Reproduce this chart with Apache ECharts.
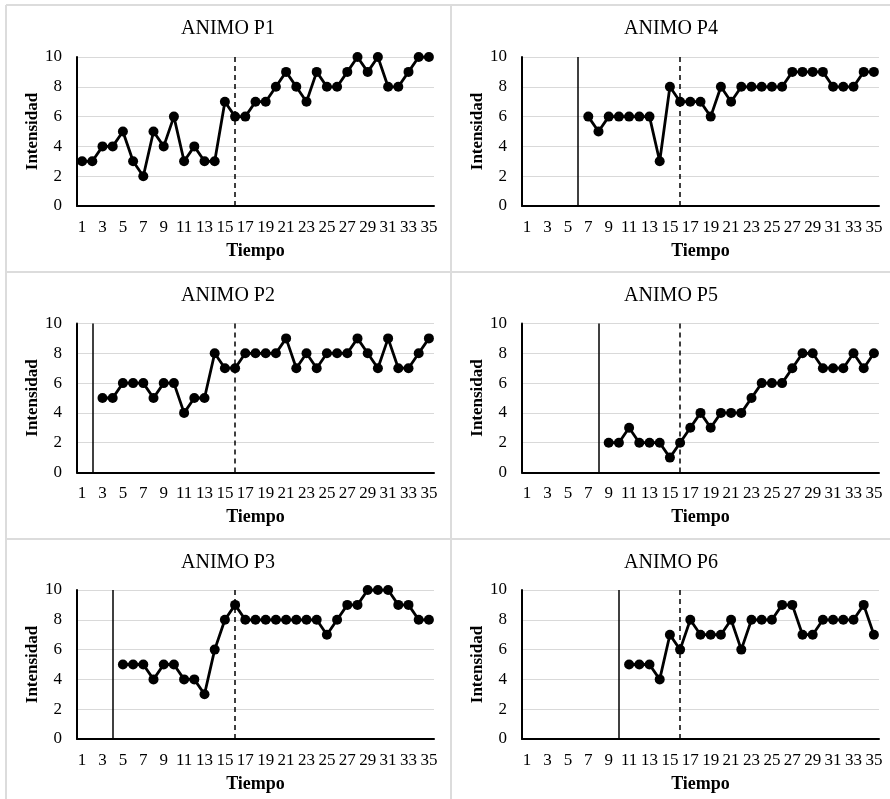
<!DOCTYPE html>
<html>
<head>
<meta charset="utf-8">
<script src="https://cdn.jsdelivr.net/npm/echarts@6/dist/echarts.min.js"></script>
<style>
html,body{margin:0;padding:0;background:#fff;}
#chart{width:890px;height:799px;}
</style>
</head>
<body>
<div id="chart"></div>
<script>
var categories = ['1','2','3','4','5','6','7','8','9','10','11','12','13','14','15','16','17','18','19','20','21','22','23','24','25','26','27','28','29','30','31','32','33','34','35'];
var yTicks = [0, 2, 4, 6, 8, 10];

var titles = ['ANIMO P1', 'ANIMO P4', 'ANIMO P2', 'ANIMO P5', 'ANIMO P3', 'ANIMO P6'];

var p1 = [3,3,4,4,5,3,2,5,4,6,3,4,3,3,7,6,6,7,7,8,9,8,7,9,8,8,9,10,9,10,8,8,9,10,10];
var p4 = [null,null,null,null,null,null,6,5,6,6,6,6,6,3,8,7,7,7,6,8,7,8,8,8,8,8,9,9,9,9,8,8,8,9,9];
var p2 = [null,null,5,5,6,6,6,5,6,6,4,5,5,8,7,7,8,8,8,8,9,7,8,7,8,8,8,9,8,7,9,7,7,8,9];
var p5 = [null,null,null,null,null,null,null,null,2,2,3,2,2,2,1,2,3,4,3,4,4,4,5,6,6,6,7,8,8,7,7,7,8,7,8];
var p3 = [null,null,null,null,5,5,5,4,5,5,4,4,3,6,8,9,8,8,8,8,8,8,8,8,7,8,9,9,10,10,10,9,9,8,8];
var p6 = [null,null,null,null,null,null,null,null,null,null,5,5,5,4,7,6,8,7,7,7,8,6,8,8,8,9,9,7,7,8,8,8,8,9,7];

var seriesData = [p1, p4, p2, p5, p3, p6];
// phase-change lines (category labels); null = none
var solidLines = [null, '6', '2', '8', '4', '10'];
var dashedLines = ['16', '16', '16', '16', '16', '16'];

var FONT = 'Liberation Serif';
var colLeft = [77, 522];
var gridW = 357;
var rowTop = [57, 323.5, 590];
var gridH = 149;
var panelCenterX = [228, 671];
var panelTop = [5, 272, 539];

var chart = echarts.init(document.getElementById('chart'));

var grids = [], xAxes = [], yAxes = [], series = [], titleOpts = [];
for (var i = 0; i < 6; i++) {
  var r = Math.floor(i / 2), c = i % 2;
  grids.push({left: colLeft[c], top: rowTop[r], width: gridW, height: gridH, containLabel: false});
  titleOpts.push({
    text: titles[i], left: panelCenterX[c], top: panelTop[r] + 14, textAlign: 'center', padding: 0,
    textStyle: {fontFamily: FONT, fontSize: 20, fontWeight: 'normal', color: '#000'}
  });
  xAxes.push({
    type: 'category', gridIndex: i, data: categories, boundaryGap: true,
    name: 'Tiempo', nameLocation: 'middle', nameGap: 36,
    nameTextStyle: {fontFamily: FONT, fontSize: 18, fontWeight: 'bold', color: '#000'},
    axisLine: {show: true, lineStyle: {color: '#000', width: 2}},
    axisTick: {show: false},
    axisLabel: {interval: 1, margin: 13, fontFamily: FONT, fontSize: 17, color: '#000'},
    splitLine: {show: false}
  });
  yAxes.push({
    type: 'value', gridIndex: i, min: yTicks[0], max: yTicks[yTicks.length - 1], interval: 2,
    name: 'Intensidad', nameLocation: 'middle', nameGap: 36,
    nameTextStyle: {fontFamily: FONT, fontSize: 17, fontWeight: 'bold', color: '#000'},
    axisLine: {show: true, lineStyle: {color: '#000', width: 2}},
    axisTick: {show: false},
    axisLabel: {margin: 15, fontFamily: FONT, fontSize: 17, color: '#000'},
    splitLine: {show: true, lineStyle: {color: '#d9d9d9', width: 1}}
  });
  var ml = [];
  if (solidLines[i] !== null) {
    ml.push({xAxis: solidLines[i], lineStyle: {type: 'solid', color: '#000', width: 1.5}});
  }
  ml.push({xAxis: dashedLines[i], lineStyle: {type: [5, 4], color: '#000', width: 1.5}});
  series.push({
    type: 'line', xAxisIndex: i, yAxisIndex: i, data: seriesData[i],
    symbol: 'circle', symbolSize: 10, showSymbol: true, showAllSymbol: true,
    lineStyle: {color: '#000', width: 2.8}, itemStyle: {color: '#000'},
    animation: false, z: 3,
    markLine: {silent: true, symbol: ['none', 'none'], label: {show: false}, animation: false, data: ml}
  });
}

var border = '#dcdcdc';
var graphics = [
  {type: 'line', shape: {x1: 6, y1: 5, x2: 890, y2: 5}, style: {stroke: border, lineWidth: 2}},
  {type: 'line', shape: {x1: 6, y1: 5, x2: 6, y2: 799}, style: {stroke: border, lineWidth: 2}},
  {type: 'line', shape: {x1: 451, y1: 5, x2: 451, y2: 799}, style: {stroke: border, lineWidth: 2}},
  {type: 'line', shape: {x1: 6, y1: 272, x2: 890, y2: 272}, style: {stroke: border, lineWidth: 2}},
  {type: 'line', shape: {x1: 6, y1: 539, x2: 890, y2: 539}, style: {stroke: border, lineWidth: 2}}
];

chart.setOption({
  backgroundColor: '#fff',
  animation: false,
  title: titleOpts,
  grid: grids,
  xAxis: xAxes,
  yAxis: yAxes,
  series: series,
  graphic: graphics
});
</script>
</body>
</html>
